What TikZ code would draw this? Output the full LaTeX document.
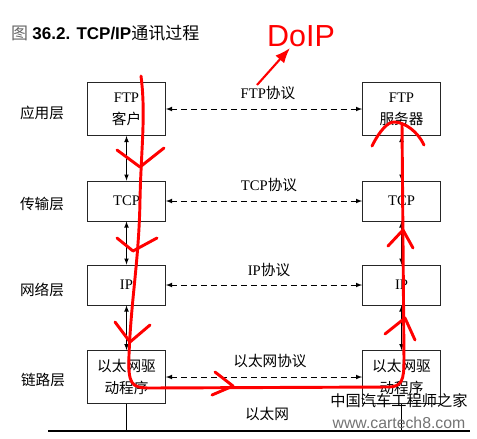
\documentclass[tikz,border=0pt]{standalone}
\usepackage{fontspec}
\setmainfont{Liberation Serif}
\setsansfont{Liberation Sans}
\newfontfamily\cjk{Noto Sans CJK SC}
\usetikzlibrary{arrows, arrows.meta}
\tikzstyle{hibox} = [rectangle, minimum width=2.34cm, minimum height=1.59cm, text centered, align=center, draw=black!85, line width=0.7pt, inner sep=0pt, font=\fontsize{12.5}{19}\selectfont]
\tikzstyle{lobox} = [hibox, minimum height=1.2cm]
\tikzstyle{blank} = [rectangle, inner sep=0pt, font=\fontsize{12.5}{15}\selectfont]
\tikzstyle{proto} = [<->, >=latex, dashed, dash pattern=on 5pt off 3.5pt, line width=0.8pt]
\tikzstyle{updown} = [<->, >=latex, line width=0.8pt]
\tikzstyle{pen} = [red, line width=2.5pt, line cap=round, line join=round]

\begin{document}
\begin{tikzpicture}[x=0.03cm, y=-0.03cm, node distance=8.25cm]
    \useasboundingbox (0,0) rectangle (477,438);
    % title
    \node (title) [blank, anchor=west, font=\fontsize{14.5}{16}\selectfont] at (11,33) {{\color{black!60}\cjk 图} {\sffamily\bfseries 36.2. TCP/IP}{\cjk 通讯过程}};
    % layers, left side
    \node (ftpc) [hibox] at (126.5,109) {FTP\\\cjk 客户};
    \node (tcpc) [lobox] at (126.5,201) {TCP};
    \node (ipc) [lobox] at (126.5,285) {IP};
    \node (ethc) [hibox] at (126.5,377) {\cjk 以太网驱\\\cjk 动程序};
    % layers, right side
    \node (ftps) [hibox, right of=ftpc] {FTP\\\cjk 服务器};
    \node (tcps) [lobox, right of=tcpc] {TCP};
    \node (ips) [lobox, right of=ipc] {IP};
    \node (eths) [hibox, right of=ethc] {\cjk 以太网驱\\\cjk 动程序};
    % layer names
    \node (lapp) [blank] at (42,113) {\cjk 应用层};
    \node (ltrans) [blank] at (42,204) {\cjk 传输层};
    \node (lnet) [blank] at (42,290) {\cjk 网络层};
    \node (llink) [blank] at (43,380) {\cjk 链路层};
    % protocols
    \node (pftp) [blank] at (268,93) {FTP\cjk 协议};
    \node (ptcp) [blank] at (269,185) {TCP\cjk 协议};
    \node (pip) [blank] at (269,270) {IP\cjk 协议};
    \node (peth) [blank] at (270,361) {\cjk 以太网协议};
    \node (ether) [blank] at (267,414) {\cjk 以太网};
    \draw [proto] (ftpc.east) -- (ftps.west);
    \draw [proto] (tcpc.east) -- (tcps.west);
    \draw [proto] (ipc.east) -- (ips.west);
    \draw [proto] (ethc.east) -- (eths.west);
    \draw [updown] (ftpc) -- (tcpc);
    \draw [updown] (tcpc) -- (ipc);
    \draw [updown] (ipc) -- (ethc);
    \draw [updown] (ftps) -- (tcps);
    \draw [updown] (tcps) -- (ips);
    \draw [updown] (ips) -- (eths);
    % ethernet bus
    \coordinate (busl) at (48,431);
    \coordinate (busr) at (470,431);
    \draw [line width=1.6pt] (busl) -- (busr);
    \draw [line width=0.7pt] (ethc.south) -- (ethc.south |- busl);
    \draw [line width=0.7pt] (eths.south) -- (eths.south |- busl);
    % red marks
    \node (doip) [blank, red, font=\sffamily\fontsize{26}{28}\selectfont] at (301,36) {DoIP};
    \coordinate (tail) at (257,85);
    \coordinate (tip) at (290,48);
    \draw [red, line width=1.8pt, -{Latex[length=13pt,width=10pt]}] (tail) -- (tip);
    \draw [pen] (141,76) .. controls (146,115) and (141,150) .. (140,200)
        .. controls (139,260) and (131,300) .. (129,355)
        .. controls (128,384) and (131,388) .. (150,388) -- (388,387)
        .. controls (402,387) and (404,380) .. (404,360) -- (402,124);
    \draw [pen] (117,150) -- (140,167) -- (164,148);
    \draw [pen] (117,238) -- (133,251) -- (157,238);
    \draw [pen] (115,322) -- (130,342) -- (150,325);
    \draw [pen] (215,372) -- (233,386) -- (212,395);
    \draw [pen] (388,246) -- (403,230) -- (413,248);
    \draw [pen] (385,334) -- (405,318) -- (415,340);
    \draw [pen] (372,146) .. controls (380,130) and (388,122) .. (394,122) .. controls (405,122) and (418,132) .. (424,145);
    % watermark
    \node (wmark) [blank, font=\fontsize{13}{15}\selectfont] at (399,401) {\cjk 中国汽车工程师之家};
    \node (wurl) [blank, black!55, font=\sffamily\fontsize{13.5}{15}\selectfont] at (399,423) {www.cartech8.com};
\end{tikzpicture}
\end{document}
